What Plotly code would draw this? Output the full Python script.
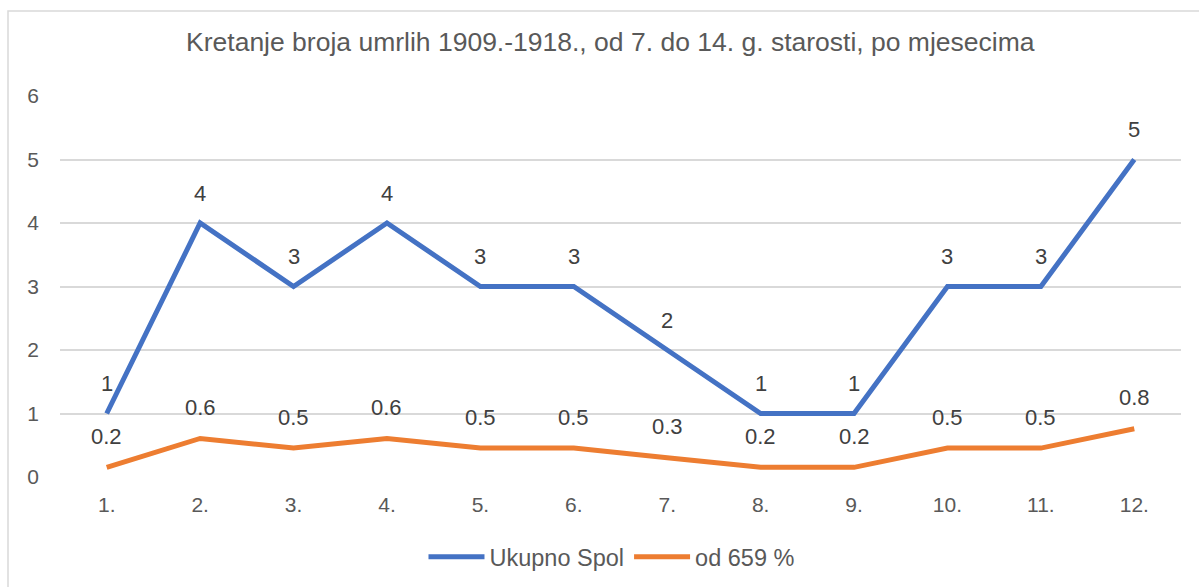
import plotly.graph_objects as go

months = ["1.", "2.", "3.", "4.", "5.", "6.", "7.", "8.", "9.", "10.", "11.", "12."]
ukupno = [1, 4, 3, 4, 3, 3, 2, 1, 1, 3, 3, 5]
postotak = [0.152, 0.607, 0.455, 0.607, 0.455, 0.455, 0.303, 0.152, 0.152, 0.455, 0.455, 0.759]
y_ticks = [0, 1, 2, 3, 4, 5, 6]

BLUE = "#4472C4"
ORANGE = "#ED7D31"
FONT = "Liberation Sans, Arial, sans-serif"

fig = go.Figure()
fig.add_trace(go.Scatter(x=months, y=ukupno, mode="lines", name="Ukupno Spol",
                         line=dict(color=BLUE, width=5)))
fig.add_trace(go.Scatter(x=months, y=postotak, mode="lines", name="od 659 %",
                         line=dict(color=ORANGE, width=5)))

anns = []
for i, v in enumerate(ukupno):
    anns.append(dict(x=i, y=v, xref="x", yref="y", text=f"{v:g}", showarrow=False,
                     yshift=30, font=dict(family=FONT, size=22, color="#404040")))
for i, v in enumerate(postotak):
    anns.append(dict(x=i, y=v, xref="x", yref="y", text=f"{v:.1f}", showarrow=False,
                     yshift=31, font=dict(family=FONT, size=22, color="#404040")))

fig.update_layout(
    width=1199, height=587,
    margin=dict(l=60, r=18, t=96, b=110),
    paper_bgcolor="white", plot_bgcolor="white",
    font=dict(family=FONT, color="#595959"),
    title=dict(text="Kretanje broja umrlih 1909.-1918., od 7. do 14. g. starosti, po mjesecima",
               x=0.509, xanchor="center", y=1 - 42 / 587, yanchor="middle",
               font=dict(family=FONT, size=26.5, color="#595959")),
    xaxis=dict(type="category", range=[-0.5, 11.5], showgrid=False, showline=False,
               zeroline=False, ticks="", tickfont=dict(size=21, color="#595959"),
               ticklabelstandoff=13, automargin=False),
    yaxis=dict(range=[0, 6], tickvals=y_ticks, showgrid=True, gridcolor="#D9D9D9",
               gridwidth=1.5, zeroline=False, showline=False, ticks="",
               tickfont=dict(size=21, color="#595959"), ticklabelstandoff=20,
               automargin=False),
    legend=dict(orientation="h", xref="container", yref="container",
                x=0.510, xanchor="center", y=1 - 557 / 587, yanchor="middle",
                font=dict(size=23.5, color="#595959"), itemwidth=56),
    annotations=anns,
    shapes=[dict(type="rect", xref="paper", yref="paper",
                 x0=(8 - 60) / 1121, x1=1.2, y0=-0.6, y1=(477 - 11) / 381,
                 line=dict(color="#D9D9D9", width=1.5), layer="below")],
)

fig.write_html("out.html", config={"displayModeBar": False},
               post_script="document.body.style.margin='0';document.body.style.overflow='hidden';")
